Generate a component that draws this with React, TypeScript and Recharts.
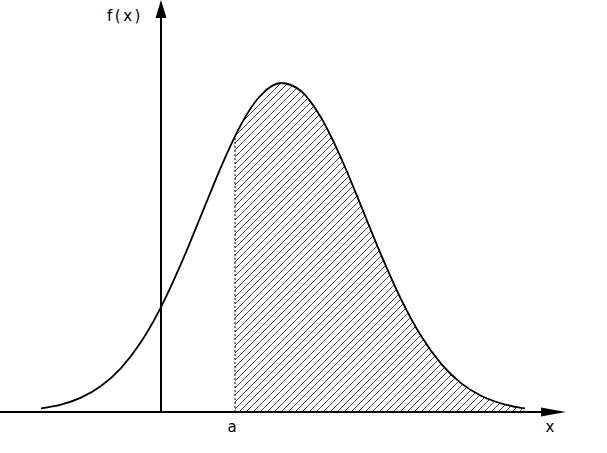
import { Area, ComposedChart, Line, ReferenceLine, XAxis, YAxis } from 'recharts';

// Courbe (densité, pic ≈ 0.40)
const xs = [
  -1.5, -1.25, -1.0, -0.75, -0.5, -0.25, 0, 0.25, 0.5, 0.75, 0.925, 1.0, 1.25, 1.5,
  1.75, 2.0, 2.25, 2.5, 2.75, 3.0, 3.25, 3.5, 3.75, 4.0, 4.25, 4.5, 4.55,
];
const fx = [
  0.0045, 0.009, 0.0174, 0.0315, 0.0534, 0.085, 0.1275, 0.18, 0.2387, 0.2978, 0.335,
  0.3493, 0.3854, 0.4, 0.3902, 0.358, 0.309, 0.2507, 0.1914, 0.1373, 0.0926, 0.0588,
  0.0351, 0.0197, 0.0105, 0.0051, 0.0045,
];
const aValue = 0.925;
const aLabel = 'a';
const xLabel = 'x';
const yLabel = 'f(x)';

const X_DOMAIN: [number, number] = [-2.0125, 5.575];
const Y_DOMAIN: [number, number] = [-0.04985, 0.5009];
const X_ARROW_END = 5.0625;

const data = xs.map((x, i) => ({
  x,
  f: fx[i],
  tail: x >= aValue ? fx[i] : null,
}));

const FONT = '"DejaVu Sans", sans-serif';

function XAxisArrow(props: any) {
  const { x1, y1, x2, y2 } = props;
  return (
    <g>
      <line x1={x1} y1={y1} x2={x2 - 20} y2={y2} stroke="#000" strokeWidth={2} />
      <polygon points={`${x2 - 25},${y2 - 4.5} ${x2},${y2} ${x2 - 25},${y2 + 4.5}`} fill="#000" />
      <text x={x2 - 16} y={y2 + 20} fontFamily={FONT} fontSize={15} fill="#000" textAnchor="middle">
        {xLabel}
      </text>
    </g>
  );
}

function YAxisArrow(props: any) {
  const { x1, y1, x2, y2 } = props;
  const top = Math.min(y1, y2);
  const bottom = Math.max(y1, y2);
  return (
    <g>
      <line x1={x1} y1={bottom} x2={x2} y2={top + 14} stroke="#000" strokeWidth={2} />
      <polygon points={`${x1 - 5.5},${top + 18} ${x1},${top} ${x1 + 5.5},${top + 18}`} fill="#000" />
      <text x={x1 - 54} y={top + 21} fontFamily={FONT} fontSize={15} fill="#000" letterSpacing={2.5}>
        {yLabel}
      </text>
    </g>
  );
}

function ALine(props: any) {
  const { x1, y1, x2, y2 } = props;
  const bottom = Math.max(y1, y2);
  return (
    <g>
      <line x1={x1} y1={y1} x2={x2} y2={y2} stroke="#000" strokeWidth={1} strokeDasharray="2 2" />
      <text x={x1 - 3} y={bottom + 20} fontFamily={FONT} fontSize={15} fill="#000" textAnchor="middle">
        {aLabel}
      </text>
    </g>
  );
}

export default function App() {
  return (
    <div style={{ position: 'fixed', left: 0, top: 0, width: 607, height: 453, background: '#fff' }}>
      <ComposedChart width={607} height={453} data={data} margin={{ top: 0, right: 0, bottom: 0, left: 0 }}>
        <defs>
          <pattern id="hatch" width="7" height="7" patternUnits="userSpaceOnUse">
            <line x1="-1" y1="8" x2="8" y2="-1" stroke="#333" strokeWidth={0.9} />
          </pattern>
        </defs>
        <XAxis type="number" dataKey="x" domain={X_DOMAIN} allowDataOverflow hide />
        <YAxis type="number" domain={Y_DOMAIN} allowDataOverflow hide />
        <Area
          dataKey="tail"
          type="monotone"
          fill="url(#hatch)"
          fillOpacity={1}
          stroke="none"
          baseValue={0}
          isAnimationActive={false}
        />
        <ReferenceLine
          segment={[
            { x: aValue, y: 0 },
            { x: aValue, y: fx[xs.indexOf(aValue)] },
          ]}
          shape={ALine}
          ifOverflow="visible"
        />
        <Line
          dataKey="f"
          type="monotone"
          stroke="#000"
          strokeWidth={1.8}
          dot={false}
          activeDot={false}
          isAnimationActive={false}
        />
        <ReferenceLine
          segment={[
            { x: X_DOMAIN[0], y: 0 },
            { x: X_ARROW_END, y: 0 },
          ]}
          shape={XAxisArrow}
          ifOverflow="visible"
        />
        <ReferenceLine
          segment={[
            { x: 0, y: 0 },
            { x: 0, y: Y_DOMAIN[1] },
          ]}
          shape={YAxisArrow}
          ifOverflow="visible"
        />
      </ComposedChart>
    </div>
  );
}
